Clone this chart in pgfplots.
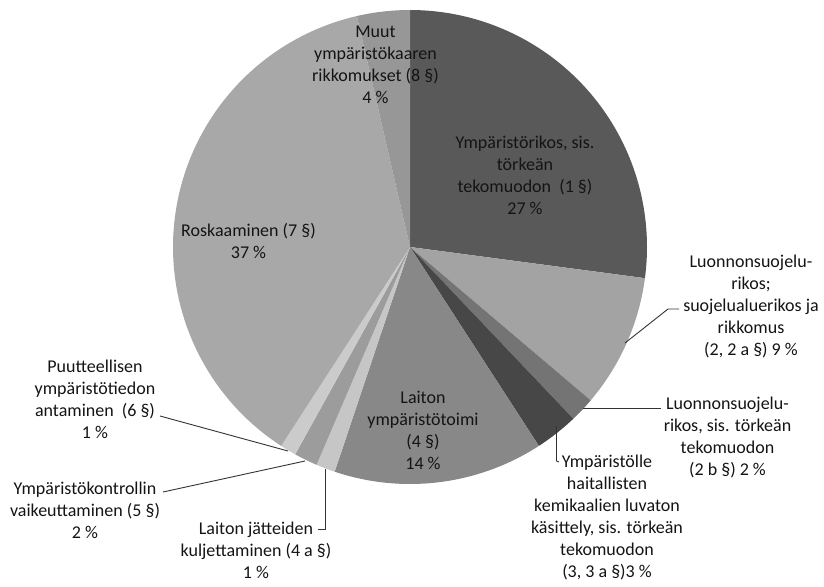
\documentclass[border=0pt]{standalone}
\usepackage{pgfplots}
\pgfplotsset{compat=1.18}
\usepackage{fontspec}
\setmainfont{Carlito}
\definecolor{cA}{HTML}{595959}
\definecolor{cB}{HTML}{A3A3A3}
\definecolor{cC}{HTML}{747474}
\definecolor{cD}{HTML}{474747}
\definecolor{cE}{HTML}{888888}
\definecolor{cF}{HTML}{C6C6C6}
\definecolor{cG}{HTML}{9C9C9C}
\definecolor{cH}{HTML}{CBCBCB}
\definecolor{cI}{HTML}{A8A8A8}
\definecolor{cJ}{HTML}{979797}
\definecolor{txt}{HTML}{141414}
% slice from cumulative percent #1 to #2
\newcommand{\slice}[3]{%
  \addplot[draw=none, fill=#3, domain={-90+3.6*#1}:{-90+3.6*#2}, samples=80, variable=\t]
    ({410+237*cos(\t)},{247+237*sin(\t)}) -- (axis cs:410,247) -- cycle;}
\begin{document}
\begin{tikzpicture}
\begin{axis}[
  width=824pt, height=586pt, scale only axis,
  xmin=0, xmax=824, ymin=0, ymax=586, y dir=reverse,
  hide axis, clip=false,
]
% percentages: 27.1, 9.1, 1.7, 2.95, 14.3, 1.3, 1.6, 1.1, 37.25, 3.6
\slice{0}{27.1}{cA}
\slice{27.1}{36.2}{cB}
\slice{36.2}{37.9}{cC}
\slice{37.9}{40.85}{cD}
\slice{40.85}{55.15}{cE}
\slice{55.15}{56.45}{cF}
\slice{56.45}{58.05}{cG}
\slice{58.05}{59.15}{cH}
\slice{59.15}{96.4}{cI}
\slice{96.4}{100}{cJ}
% leader lines
\tikzset{lead/.style={draw=black!80, line width=0.9pt}}
\draw[lead] (axis cs:625,343) -- (axis cs:668,309) -- (axis cs:679,309);
\draw[lead] (axis cs:583,408.5) -- (axis cs:661,408.5);
\draw[lead] (axis cs:556.5,426) -- (axis cs:556.5,461) -- (axis cs:559,462);
\draw[lead] (axis cs:325,469) -- (axis cs:325,529) -- (axis cs:318,529);
\draw[lead] (axis cs:305,461) -- (axis cs:163,492);
\draw[lead] (axis cs:288,451) -- (axis cs:160,416);
% labels
\tikzset{lab/.style={align=center, text=txt, inner sep=0pt, font=\fontsize{18}{22}\selectfont}}
\node[lab] at (axis cs:525,175) {Ympäristörikos, sis.\\törkeän\\tekomuodon~ (1 §)\\27 \%};
\node[lab] at (axis cs:375.5,65) {Muut\\ympäristökaaren\\rikkomukset (8 §)\\4 \%};
\node[lab] at (axis cs:248.5,241) {Roskaaminen (7 §)\\37 \%};
\node[lab] at (axis cs:423,430) {Laiton\\ympäristötoimi\\(4 §)\\14 \%};
\node[lab] at (axis cs:751,306) {Luonnonsuojelu-\\rikos;\\suojelualuerikos ja\\rikkomus\\(2, 2 a §) 9 \%};
\node[lab] at (axis cs:727.5,437) {Luonnonsuojelu-\\rikos, sis. törkeän\\tekomuodon\\(2 b §) 2 \%};
\node[lab] at (axis cs:607,517.5) {Ympäristölle\\haitallisten\\kemikaalien luvaton\\käsittely, sis. törkeän\\tekomuodon\\(3, 3 a §)3 \%};
\node[lab] at (axis cs:256,550) {Laiton jätteiden\\kuljettaminen (4 a §)\\1 \%};
\node[lab] at (axis cs:85,510) {Ympäristökontrollin\\vaikeuttaminen (5 §)\\2 \%};
\node[lab] at (axis cs:95,399) {Puutteellisen\\ympäristötiedon\\antaminen~ (6 §)\\1 \%};
\end{axis}
\pgfresetboundingbox
\path (0,0) rectangle (824pt,586pt);
\end{tikzpicture}
\end{document}
